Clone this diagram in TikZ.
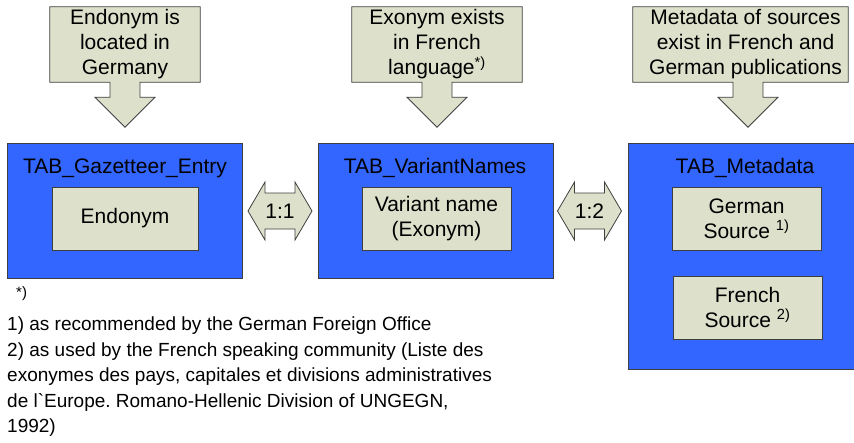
\documentclass[tikz,border=0pt]{standalone}
\usepackage{fontspec}
\setmainfont{Liberation Sans}
\usepackage{xcolor}
\usepackage{tikz}
\usetikzlibrary{positioning,calc,backgrounds}
\frenchspacing

\definecolor{tabblue}{HTML}{3366FF}
\definecolor{notefill}{HTML}{DDE0CB}
\definecolor{edge}{HTML}{3F3F3F}

\tikzset{
    tabbox/.style={draw=edge, fill=tabblue, line width=0.8pt, inner sep=0pt,
        minimum width=235pt, minimum height=135pt},
    fieldbox/.style={draw=edge, fill=notefill, line width=0.8pt, inner sep=0pt,
        minimum width=149pt, minimum height=63pt, align=center,
        font=\fontsize{21}{25}\selectfont},
    calltext/.style={inner sep=0pt, minimum height=75pt, align=center,
        font=\fontsize{21}{25}\selectfont},
    callshape/.style={draw=edge, fill=notefill, line width=0.8pt},
    tabtitle/.style={anchor=base, inner sep=0pt, font=\fontsize{21}{25}\selectfont},
}

\begin{document}
\begin{tikzpicture}[x=1pt, y=-1pt]
    \useasboundingbox (0,0) rectangle (854,442);

    % Conditions on top
    \node[calltext, minimum width=150pt] (c1) at (125,44.5) {Endonym is\\located in\\Germany};
    \node[calltext, minimum width=170pt] (c2) at (437,44.5) {Exonym exists\\in French\\language\textsuperscript{*)}};
    \node[calltext, minimum width=215pt] (c3) at (740.5,44.5) {\hspace*{10pt}Metadata of sources\\\hspace*{10pt}exist in French and\\\hspace*{10pt}German publications};

    % Tables
    \node[tabbox] (b1) at (124.5,210.5) {};
    \node[tabbox] (b2) at (435.5,210.5) {};
    \node[tabbox, minimum width=228pt, minimum height=226pt] (b3) at (742,256) {};
    \node[tabtitle] (t1) at (125,173) {TAB\_Gazetteer\_Entry};
    \node[tabtitle] (t2) at (435,173) {TAB\_VariantNames};
    \node[tabtitle] (t3) at (745,173) {TAB\_Metadata};

    % Fields
    \node[fieldbox, minimum width=146pt] (f1) at (125,218.5) {Endonym};
    \node[fieldbox] (f2) at (436.5,218.5) {Variant name\\(Exonym)};
    \node[fieldbox] (f3) at (746.5,218.5) {German\\Source \textsuperscript{1)}};
    \node[fieldbox] (f4) at (747.5,307.5) {French\\Source \textsuperscript{2)}};

    % Relations
    \node[inner sep=0pt, font=\fontsize{21}{25}\selectfont] (r1) at (280,211) {1:1};
    \node[inner sep=0pt, font=\fontsize{21}{25}\selectfont] (r2) at (589.5,211) {1:2};

    \begin{scope}[on background layer]
        \foreach \c/\d in {c1/0,c2/0,c3/7.5}
            \draw[callshape] (\c.north west) -- (\c.north east) -- (\c.south east)
                -- ($(\c.south)+(\d+15,0)$) -- ++(0,15) -- ++(15,0)
                -- ($(\c.south)+(\d,45)$) -- ($(\c.south)+(\d-30,15)$) -- ++(15,0)
                -- ++(0,-15) -- (\c.south west) -- cycle;
        \foreach \r in {r1,r2}
            \draw[callshape] ($(\r)+(-32,0)$) -- ++(17,-29) -- ++(0,11) -- ++(30,0)
                -- ++(0,-11) -- ($(\r)+(32,0)$) -- ++(-17,29) -- ++(0,-11)
                -- ++(-30,0) -- ++(0,11) -- cycle;
    \end{scope}

    % Notes
    \node[anchor=north west, inner sep=0pt, font=\fontsize{15}{17}\selectfont] (star) at (16,286) {*)};
    \node[anchor=north west, inner sep=0pt, align=left, font=\fontsize{19}{25.5}\selectfont] (notes) at (7,317)
        {1) as recommended by the German Foreign Office\\
         2) as used by the French speaking community (Liste des\\
         exonymes des pays, capitales et divisions administratives\\
         de l\textasciigrave Europe. Romano-Hellenic Division of UNGEGN,\\
         1992)};
\end{tikzpicture}
\end{document}
